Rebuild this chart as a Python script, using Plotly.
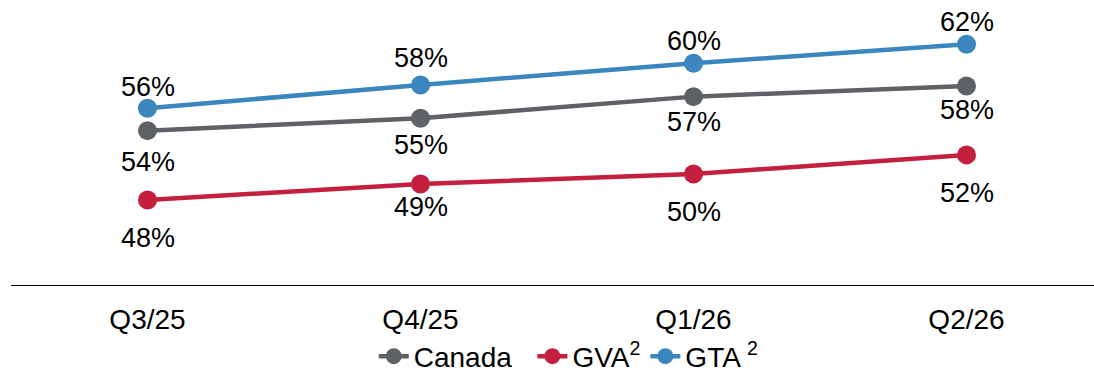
import plotly.graph_objects as go

categories = ["Q3/25", "Q4/25", "Q1/26", "Q2/26"]
canada = [54.03, 55.15, 57.09, 58.05]
gva = [47.8, 49.24, 50.14, 51.85]
gta = [56.05, 58.14, 60.09, 61.80]

series_names = ["Canada&nbsp;&nbsp;", "GVA<sup>2</sup>", "GTA <sup>2</sup>"]
colors = ["#5E6266", "#C41F3E", "#3A86BD"]
# label offsets in px (positive = below the point)
label_offsets = [
    [31, 26.7, 25, 24],
    [38, 22.7, 38, 38],
    [-21.6, -26.7, -22.5, -22],
]

FONT = "Liberation Sans, Arial, sans-serif"
fig = go.Figure()
annotations = []
for name, vals, col, offs in zip(series_names, [canada, gva, gta], colors, label_offsets):
    fig.add_trace(go.Scatter(
        x=categories, y=vals, name=name, mode="lines+markers",
        line=dict(color=col, width=4.5),
        marker=dict(color=col, size=19),
    ))
    for c, v, o in zip(categories, vals, offs):
        annotations.append(dict(
            x=c, y=v, text=f"{round(v):.0f}%", showarrow=False,
            yshift=-o, font=dict(size=27, color="#000000", family=FONT),
        ))

fig.update_layout(
    width=1094, height=372,
    margin=dict(l=11, r=0, t=7, b=87, autoexpand=False),
    paper_bgcolor="white", plot_bgcolor="white",
    font=dict(family=FONT, size=27, color="#000000"),
    annotations=annotations,
    showlegend=True,
    hovermode=False,
    legend=dict(orientation="h", x=0.515, xanchor="center", y=-0.167, yanchor="top",
                font=dict(size=28), traceorder="normal", itemwidth=30,
                tracegroupgap=0, bgcolor="rgba(0,0,0,0)"),
    xaxis=dict(type="category", range=[-0.5, 3.467], showgrid=False, zeroline=False,
               showline=True, linecolor="#000000", linewidth=1.3, automargin=False,
               ticks="outside", ticklen=9, tickcolor="rgba(0,0,0,0)",
               tickfont=dict(size=28)),
    yaxis=dict(range=[40.15, 65.15], visible=False, showgrid=False, zeroline=False,
               automargin=False),
)

fig.write_html("out.html", config={"displayModeBar": False},
               post_script="document.body.style.margin='0';document.body.style.overflow='hidden';")
